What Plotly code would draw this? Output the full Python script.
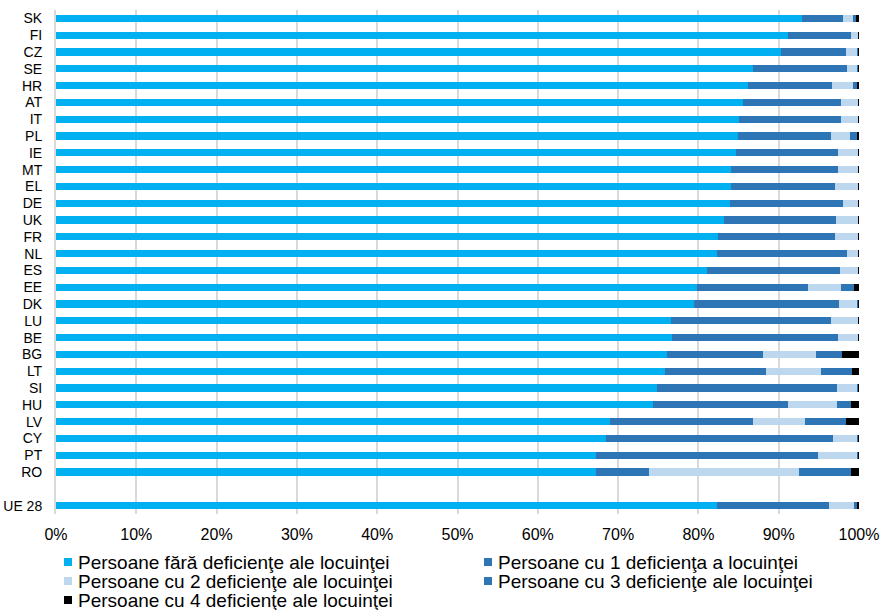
import plotly.graph_objects as go

countries = ["SK", "FI", "CZ", "SE", "HR", "AT", "IT", "PL", "IE", "MT", "EL", "DE", "UK", "FR",
             "NL", "ES", "EE", "DK", "LU", "BE", "BG", "LT", "SI", "HU", "LV", "CY", "PT", "RO",
             " ", "UE 28"]

no_def = [92.9, 91.2, 90.3, 86.8, 86.2, 85.5, 85.0, 84.9, 84.7, 84.1, 84.1, 83.9, 83.2, 82.5,
          82.3, 81.1, 79.8, 79.5, 76.6, 76.7, 76.1, 75.8, 74.9, 74.4, 69.0, 68.5, 67.3, 67.2,
          None, 82.3]
def1 = [5.1, 7.8, 8.1, 11.7, 10.4, 12.3, 12.8, 11.6, 12.7, 13.3, 12.9, 14.1, 13.9, 14.5,
        16.2, 16.5, 13.8, 18.0, 19.9, 20.7, 12.0, 12.6, 22.3, 16.7, 17.8, 28.3, 27.6, 6.6,
        None, 14.0]
def2 = [1.2, 0.9, 1.4, 1.3, 2.6, 2.1, 2.1, 2.4, 2.5, 2.5, 2.9, 1.9, 2.8, 2.9,
        1.4, 2.3, 4.1, 2.2, 3.4, 2.5, 6.5, 6.9, 2.6, 6.1, 6.5, 2.9, 4.8, 18.7,
        None, 3.1]
def3 = [0.4, 0.0, 0.1, 0.1, 0.5, 0.0, 0.0, 0.8, 0.0, 0.0, 0.0, 0.0, 0.0, 0.0,
        0.0, 0.0, 1.7, 0.2, 0.0, 0.0, 3.3, 3.8, 0.1, 1.8, 5.1, 0.2, 0.2, 6.5,
        None, 0.4]
def4 = [0.4, 0.1, 0.1, 0.1, 0.3, 0.1, 0.1, 0.3, 0.1, 0.1, 0.1, 0.1, 0.1, 0.1,
        0.1, 0.1, 0.6, 0.1, 0.1, 0.1, 2.1, 0.9, 0.1, 1.0, 1.6, 0.1, 0.1, 1.0,
        None, 0.2]

series_names = [
    "Persoane fără deficienţe ale locuinţei",
    "Persoane cu 1 deficienţa a locuinţei",
    "Persoane cu 2 deficienţe ale locuinţei",
    "Persoane cu 3 deficienţe ale locuinţei",
    "Persoane cu 4 deficienţe ale locuinţei",
]
series_values = [no_def, def1, def2, def3, def4]
colors = ["#00B0F0", "#2E75B6", "#BDD7EE", "#2E75B6", "#000000"]

W, H = 881, 610
ML, MR, MT, MB = 56, 22, 10, 96
PW, PH = W - ML - MR, H - MT - MB

fig = go.Figure()
for name, vals, col in zip(series_names, series_values, colors):
    fig.add_trace(go.Bar(
        y=countries, x=vals, name=name, orientation="h",
        marker=dict(color=col, line=dict(width=0)),
        showlegend=False,
    ))

# Custom legend (two columns, Excel-like layout)
def px_x(X):
    return (X - ML) / PW

def px_y(Y):
    return (H - MB - Y) / PH

legend_pos = [(64, 562), (484, 562), (64, 581), (484, 581), (64, 600)]
shapes = []
annotations = []
for (lx, ly), name, col in zip(legend_pos, series_names, colors):
    shapes.append(dict(
        type="rect", xref="paper", yref="paper",
        x0=px_x(lx), x1=px_x(lx + 8), y0=px_y(ly + 4), y1=px_y(ly - 4),
        fillcolor=col, line=dict(width=0),
    ))
    annotations.append(dict(
        xref="paper", yref="paper", x=px_x(lx + 12), y=px_y(ly),
        xanchor="left", yanchor="middle", text=name, showarrow=False,
        font=dict(size=19, color="#000000"),
    ))

fig.update_layout(
    barmode="stack",
    bargap=0.58,
    width=W, height=H,
    margin=dict(l=ML, r=MR, t=MT, b=MB, autoexpand=False),
    plot_bgcolor="white", paper_bgcolor="white",
    font=dict(family="Liberation Sans, Arial, sans-serif", color="#000000"),
    hovermode=False,
    xaxis=dict(
        range=[0, 100], dtick=10, ticksuffix="%",
        showgrid=True, gridcolor="#D9D9D9", gridwidth=2,
        zeroline=False, showline=False,
        tickfont=dict(size=16), ticks="", ticklabelstandoff=9, fixedrange=True,
    ),
    yaxis=dict(
        type="category", autorange="reversed",
        tickmode="array", tickvals=countries, ticktext=countries,
        showgrid=False, showline=True, linecolor="#D9D9D9", linewidth=2,
        tickfont=dict(size=14), ticks="", ticklabelstandoff=9, fixedrange=True,
    ),
    shapes=shapes,
    annotations=annotations,
    showlegend=False,
)

fig.write_html(
    "out.html",
    config={"displayModeBar": False, "staticPlot": True},
    post_script="document.body.style.margin='0';document.body.style.overflow='hidden';",
)
